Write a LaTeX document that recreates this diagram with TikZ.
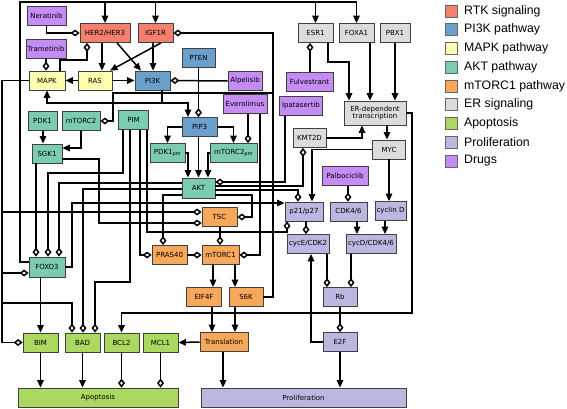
\documentclass[tikz,border=0pt]{standalone}
\usepackage{fontspec}
\usepackage{tikz}
\usetikzlibrary{arrows.meta,positioning}
\newfontfamily\dejavu{DejaVu Sans}
\newfontfamily\legfont{Liberation Sans}
\definecolor{rtkc}{RGB}{244,128,111}
\definecolor{pikc}{RGB}{108,160,204}
\definecolor{mapkc}{RGB}{255,255,176}
\definecolor{aktc}{RGB}{124,204,180}
\definecolor{mtorc}{RGB}{248,168,90}
\definecolor{erc}{RGB}{220,220,220}
\definecolor{apoc}{RGB}{170,216,96}
\definecolor{prolc}{RGB}{186,184,224}
\definecolor{drugc}{RGB}{196,140,244}
\tikzset{
  box/.style={draw=black!75, line width=0.8pt, minimum height=19pt, inner sep=1pt,
    font=\dejavu\fontsize{7}{8}\selectfont},
  act/.style={-{Triangle[length=7.5pt,width=6.5pt]}},
  inh/.style={-{Diamond[length=9pt,width=7pt,fill=white]}},
  legsq/.style={draw=black!60, line width=0.8pt, minimum size=12pt, inner sep=0pt},
  legtxt/.style={font=\legfont\fontsize{12.3}{14}\selectfont, inner sep=2pt},
}

\begin{document}
\begin{tikzpicture}[x=1pt, y=-1pt, line width=1.5pt]
  \useasboundingbox (0,0) rectangle (567,408);

  % recettori e farmaci in alto
  \node[box, fill=drugc, minimum width=39pt] (nera) at (46.5,15.5) {Neratinib};
  \node[box, fill=drugc, minimum width=40pt] (tram) at (46,49) {Trametinib};
  \node[box, fill=rtkc, minimum width=50pt] (her) at (105,33) {HER2/HER3};
  \node[box, fill=rtkc, minimum width=35pt] (igf) at (155.5,33) {IGF1R};
  \node[box, fill=mapkc, minimum width=36pt] (mapk) at (47,80.5) {MAPK};
  \node[box, fill=mapkc, minimum width=34pt] (ras) at (95,80.5) {RAS};
  \node[box, fill=pikc, minimum width=35pt] (pik) at (152.5,80.5) {PI3K};
  \node[box, fill=pikc, minimum width=33pt] (pten) at (198.5,57.5) {PTEN};
  \node[box, fill=drugc, minimum width=34pt] (alp) at (245,81) {Alpelisib};
  \node[box, fill=drugc, minimum width=44pt] (evero) at (245,104) {Everolimus};
  \node[box, fill=pikc, minimum width=35pt] (pip) at (199.5,127) {PIP3};

  % AKT
  \node[box, fill=aktc, minimum width=35pt] (pdkm) at (167.5,153) {PDK1\textsubscript{pm}};
  \node[box, fill=aktc, minimum width=47pt] (mtcm) at (233.5,153) {mTORC2\textsubscript{pm}};
  \node[box, fill=aktc, minimum width=33pt, minimum height=20pt] (akt) at (198.5,188) {AKT};
  \node[box, fill=aktc, minimum width=29pt] (pdk) at (42.5,121) {PDK1};
  \node[box, fill=aktc, minimum width=38pt] (mtc) at (81,121) {mTORC2};
  \node[box, fill=aktc, minimum width=30pt] (pim) at (133.5,120) {PIM};
  \node[box, fill=aktc, minimum width=30pt] (sgk) at (47,153.5) {SGK1};
  \node[box, fill=aktc, minimum width=36pt, minimum height=20pt] (foxo) at (47,267) {FOXO3};

  % mTORC1
  \node[box, fill=mtorc, minimum width=35pt] (tsc) at (219.5,217) {TSC};
  \node[box, fill=mtorc, minimum width=35pt] (pras) at (169.5,255) {PRAS40};
  \node[box, fill=mtorc, minimum width=37pt] (mtor) at (220.5,255) {mTORC1};
  \node[box, fill=mtorc, minimum width=35pt] (eif) at (204,297) {EIF4F};
  \node[box, fill=mtorc, minimum width=34pt] (s6k) at (246,297) {S6K};
  \node[box, fill=mtorc, minimum width=48pt] (trans) at (224,342) {Translation};

  % apoptosi
  \node[box, fill=apoc, minimum width=35pt] (bim) at (40.5,342.5) {BIM};
  \node[box, fill=apoc, minimum width=35pt] (bad) at (82.5,342.5) {BAD};
  \node[box, fill=apoc, minimum width=35pt] (bcl) at (121.5,342.5) {BCL2};
  \node[box, fill=apoc, minimum width=35pt] (mcl) at (160.5,342.5) {MCL1};
  \node[box, fill=apoc, minimum width=160pt] (apo) at (98,397.5) {Apoptosis};

  % ER
  \node[box, fill=erc, minimum width=35pt] (esr) at (315.5,33) {ESR1};
  \node[box, fill=erc, minimum width=35pt] (foxa) at (356.5,33) {FOXA1};
  \node[box, fill=erc, minimum width=30pt] (pbx) at (395,33) {PBX1};
  \node[box, fill=drugc, minimum width=47pt] (fulv) at (309.5,81.5) {Fulvestrant};
  \node[box, fill=drugc, minimum width=43pt] (ipa) at (301,106) {Ipatasertib};
  \node[box, fill=erc, minimum width=62pt, minimum height=24pt, align=center] (erdep) at (375,113) {ER-dependent\\[-1pt]transcription};
  \node[box, fill=erc, minimum width=33pt] (kmt) at (309.5,138) {KMT2D};
  \node[box, fill=erc, minimum width=33pt] (myc) at (389,149.5) {MYC};

  % proliferazione
  \node[box, fill=drugc, minimum width=46pt] (palb) at (345,176) {Palbociclib};
  \node[box, fill=prolc, minimum width=38pt] (p21) at (304,211.5) {p21/p27};
  \node[box, fill=prolc, minimum width=37pt] (cdk46) at (348.5,211.5) {CDK4/6};
  \node[box, fill=prolc, minimum width=31pt] (cycd) at (390.5,211) {cyclin D};
  \node[box, fill=prolc, minimum width=42pt] (cyce) at (308,244) {cycE/CDK2};
  \node[box, fill=prolc, minimum width=50pt] (cdcd) at (371,244) {cycD/CDK4/6};
  \node[box, fill=prolc, minimum width=34pt] (rb) at (340,297) {Rb};
  \node[box, fill=prolc, minimum width=34pt] (e2f) at (340,342) {E2F};
  \node[box, fill=prolc, minimum width=205pt] (prolif) at (303.5,397.5) {Proliferation};

  % feedback di FOXO3 lungo il bordo
  \draw[act] (foxo.west |- 0,262) -| (20,2) -| (foxa.north);
  \draw[act] (105,2) -- (her.north);
  \draw[act] (155.5,2) -- (igf.north);
  \draw[act] (315.5,2) -- (esr.north);

  % RTK -> RAS / PI3K
  \draw[inh] (nera.south) |- (her.west);
  \draw[inh] (60,0 |- mapk.north) -- (60,60) -| (87,0 |- her.south);
  \draw[inh] (46,0 |- tram.south) -- (46,0 |- mapk.north);
  \draw[act] (102,0 |- her.south) -- (102,0 |- ras.north);
  \draw[act] (117,0 |- her.south) -- (141,0 |- pik.north);
  \draw[act] (161,0 |- igf.south) -- (110,0 |- ras.north);
  \draw[act] (153,0 |- igf.south) -- (153,0 |- pik.north);
  \draw[act] (ras.east) -- (pik.west);
  \draw[act] (ras.west) -- (mapk.east);
  \draw[inh] (alp.west) -- (pik.east);
  \draw[inh] (s6k.east) -| (273,0 |- igf.east) -- (igf.east);
  \draw[inh] (273,93) -| (113,0 |- mtc.east) -- (mtc.east);

  % PI3K -> PIP3 -> AKT
  \draw[inh] (198.5,0 |- pten.south) -- (198.5,0 |- pip.north);
  \draw[act] (162,0 |- pik.south) |- (188,103) -- (188,0 |- pip.north);
  \draw[act] (162,103) -| (mapk.south);
  \draw[act] (pip.west) -| (pdkm.north);
  \draw[act] (pip.east) -| (mtcm.north);
  \draw[inh] (248,0 |- evero.south) -- (248,0 |- mtcm.north);
  \draw[inh] (260,0 |- evero.south) |- (mtor.east);
  \draw[act] (198.5,0 |- pip.south) -- (akt.north);
  \draw[act] (pdkm.east) -| (188,0 |- akt.north);
  \draw[act] (mtcm.west) -| (208,0 |- akt.north);
  \draw[inh] (285,0 |- ipa.south) |- (0,182 -| akt.east);

  % bersagli di AKT
  \draw[inh] (0,186 -| akt.east) -| (303,0 |- kmt.south);
  \draw[inh] (0,190 -| akt.east) -| (298,0 |- p21.north);
  \draw[inh] (0,195 -| akt.east) -| (252,217) -- (tsc.east);
  \draw[inh] (0,183 -| akt.west) -| (59,0 |- foxo.north);
  \draw[inh] (0,189 -| akt.west) -| (83,0 |- bad.north);
  \draw[inh] (0,195 -| akt.west) -| (163,0 |- pras.north);

  % SGK1 e PIM
  \draw[act] (43,0 |- pdk.south) -- (43,0 |- sgk.north);
  \draw[act] (mtc.south) |- (0,148 -| sgk.east);
  \draw[inh] (36,0 |- sgk.south) -- (36,0 |- foxo.north);
  \draw[inh] (0,159 -| sgk.east) -| (99,223) -- (0,223 -| tsc.west);
  \draw[inh] (123,0 |- pim.south) |- (48,173) -- (48,0 |- foxo.north);
  \draw[inh] (130,0 |- pim.south) |- (95,282) -- (95,0 |- bad.north);
  \draw[inh] (140,0 |- pim.south) |- (pras.west);
  \draw[inh] (147,0 |- pim.south) |- (287,232) -- (287,0 |- p21.south);

  % MAPK a sinistra
  \draw[inh] (mapk.west) -| (2,0 |- bim.west) -- (bim.west);
  \draw[inh] (2,212) -- (0,212 -| tsc.west);
  \draw[inh] (2,273) -- (0,273 -| foxo.west);
  \draw[inh] (2,303) -| (72,0 |- bad.north);
  \draw[act] (foxo.east) -| (72,203) -- (0,203 -| p21.west);
  \draw[act] (40.5,0 |- foxo.south) -- (bim.north);

  % mTORC1 e traduzione
  \draw[inh] (220,0 |- tsc.south) -- (220,0 |- mtor.north);
  \draw[inh] (pras.east) -- (mtor.west);
  \draw[act] (213,0 |- mtor.south) -- (213,0 |- eif.north);
  \draw[act] (235,0 |- mtor.south) -- (235,0 |- s6k.north);
  \draw[act] (212,0 |- eif.south) -- (212,0 |- trans.north);
  \draw[act] (235,0 |- s6k.south) -- (235,0 |- trans.north);
  \draw[act] (trans.west) -- (mcl.east);
  \draw[act] (223,0 |- trans.south) -- (223,0 |- prolif.north);

  % apoptosi
  \draw[act] (bim.south) -- (bim.south |- apo.north);
  \draw[act] (bad.south) -- (bad.south |- apo.north);
  \draw[inh] (bcl.south) -- (bcl.south |- apo.north);
  \draw[inh] (mcl.south) -- (mcl.south |- apo.north);

  % ER
  \draw[inh] (310,0 |- fulv.north) -- (310,0 |- esr.south);
  \draw[act] (328,0 |- esr.south) |- (349,62) -- (349,0 |- erdep.north);
  \draw[act] (370,0 |- foxa.south) -- (370,0 |- erdep.north);
  \draw[act] (pbx.south) -- (pbx.south |- erdep.north);
  \draw[act] (kmt.east) -| (362,0 |- erdep.south);
  \draw[act] (387,0 |- erdep.south) -- (387,0 |- myc.north);
  \draw[act] (erdep.east) -| (412,313) -| (bcl.north);
  \draw[act] (myc.west) -| (312,0 |- p21.north);

  % ciclo cellulare
  \draw[act] (389,0 |- myc.south) -- (389,0 |- cycd.north);
  \draw[inh] (348,0 |- palb.south) -- (348,0 |- cdk46.north);
  \draw[act] (357,0 |- cdk46.south) -- (357,0 |- cdcd.north);
  \draw[act] (385,0 |- cycd.south) -- (385,0 |- cdcd.north);
  \draw[inh] (306,0 |- p21.south) -- (306,0 |- cyce.north);
  \draw[inh] (327,0 |- cyce.south) -- (327,0 |- rb.north);
  \draw[inh] (351,0 |- cdcd.south) -- (351,0 |- rb.north);
  \draw[inh] (rb.south) -- (e2f.north);
  \draw[act] (e2f.west) -| (311,0 |- cyce.south);
  \draw[act] (e2f.south) -- (e2f.south |- prolif.north);

  % legenda
  \foreach \col/\lab [count=\i] in {rtkc/RTK signaling, pikc/PI3K pathway,
      mapkc/MAPK pathway, aktc/AKT pathway, mtorc/mTORC1 pathway,
      erc/ER signaling, apoc/Apoptosis, prolc/Proliferation, drugc/Drugs}{
    \node[legsq, fill=\col] (sq\i) at (451,{11+18.75*(\i-1)}) {};
    \node[legtxt, right=4pt of sq\i] (lab\i) {\lab};
  }
\end{tikzpicture}
\end{document}
